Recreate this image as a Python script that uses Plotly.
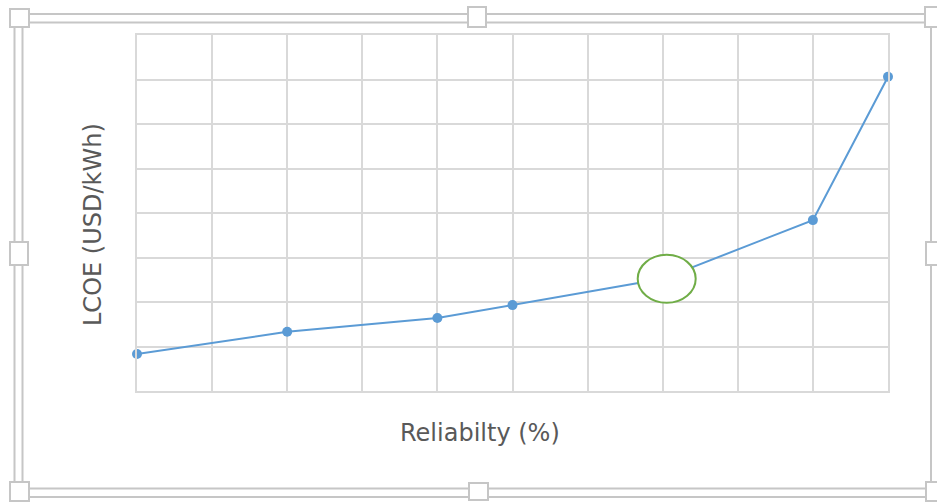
import plotly.graph_objects as go

# ---- data (axis tick labels are hidden in the reference) ----
reliability = [90, 92, 94, 95, 97, 99, 100]          # Reliability (%)
lcoe = [0.083, 0.133, 0.164, 0.193, 0.252, 0.384, 0.706]  # LCOE (USD/kWh)
highlight_index = 4                                   # point circled in green

x_range = [90, 100]
y_range = [0, 0.8]

W, H = 937, 503
L, R, T, B = 137, 49, 35, 112
PW, PH = W - L - R, H - T - B

def px(p):
    return (p - L) / PW

def py(p):
    return (H - B - p) / PH

fig = go.Figure()
fig.add_trace(go.Scatter(
    x=reliability, y=lcoe, mode="lines+markers",
    line=dict(color="#5B9BD5", width=2),
    marker=dict(color="#5B9BD5", size=10),
    showlegend=False, cliponaxis=False,
))

shapes = []
# highlight ellipse around the chosen point (white filled, green outline)
hx, hy = reliability[highlight_index], lcoe[highlight_index]
dx = 29 / PW * (x_range[1] - x_range[0])
dy = 24 / PH * (y_range[1] - y_range[0])
ox = 4 / PW * (x_range[1] - x_range[0])
shapes.append(dict(type="circle", xref="x", yref="y",
                   x0=hx + ox - dx, x1=hx + ox + dx, y0=hy - dy, y1=hy + dy,
                   fillcolor="white", line=dict(color="#70AD47", width=2), layer="above"))

# chart-frame selection border (double line with handles)
fc = "#C6C6C6"
def rect(x0, y0, x1, y1, fill=None, w=2):
    d = dict(type="rect", xref="paper", yref="paper",
             x0=px(x0), x1=px(x1), y0=py(y1), y1=py(y0),
             line=dict(color=fc, width=w), layer="above")
    d["fillcolor"] = fill if fill else "rgba(0,0,0,0)"
    return d

shapes.append(rect(14.5, 14, 945, 497))
shapes.append(rect(22.5, 22.5, 931, 488.5))
for (x0, y0, x1, y1) in [
    (10, 9, 29, 27),       # top-left
    (468, 7, 486, 27),     # top-mid
    (925, 7, 945, 27),     # top-right
    (10, 242, 28, 265),    # left-mid
    (926, 242, 945, 265),  # right-mid
    (10, 482, 29, 501),    # bottom-left
    (469, 483, 488, 500),  # bottom-mid
    (926, 482, 945, 501),  # bottom-right
]:
    shapes.append(rect(x0, y0, x1, y1, fill="white"))

title_font = dict(family="DejaVu Sans", size=24, color="#595959")
annotations = [
    dict(text="Reliabilty (%)", xref="paper", yref="paper", x=px(480), y=py(433),
         xanchor="center", yanchor="middle", showarrow=False, font=title_font),
    dict(text="LCOE (USD/kWh)", xref="paper", yref="paper", x=px(93), y=py(225),
         xanchor="center", yanchor="middle", showarrow=False, textangle=-90, font=title_font),
]

grid = "#D9D9D9"
fig.update_layout(
    width=W, height=H,
    margin=dict(l=L, r=R, t=T, b=B, pad=0),
    paper_bgcolor="white", plot_bgcolor="white",
    shapes=shapes, annotations=annotations,
    xaxis=dict(range=x_range, dtick=1, showticklabels=False, ticks="",
               showgrid=True, gridcolor=grid, gridwidth=2, zeroline=False,
               showline=True, linecolor=grid, linewidth=2, mirror=True, fixedrange=True),
    yaxis=dict(range=y_range, dtick=0.1, showticklabels=False, ticks="",
               showgrid=True, gridcolor=grid, gridwidth=2, zeroline=False,
               showline=True, linecolor=grid, linewidth=2, mirror=True, fixedrange=True),
)

fig.write_html("out.html", config={"displayModeBar": False})
